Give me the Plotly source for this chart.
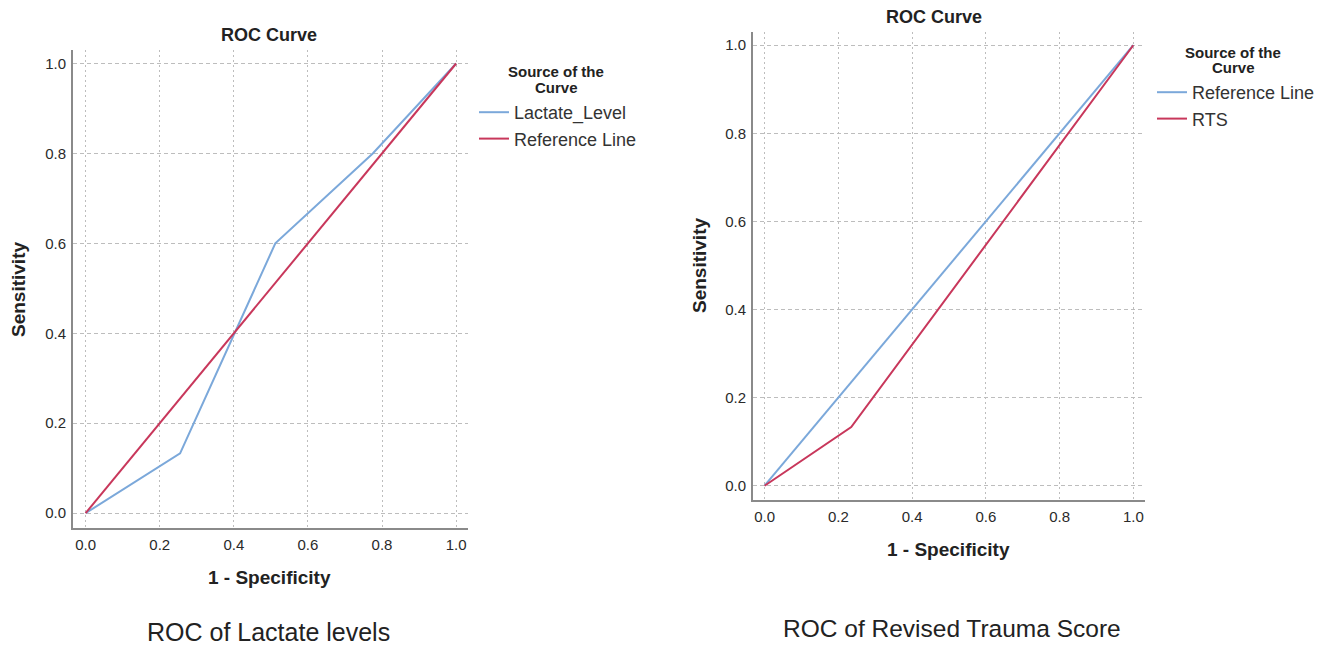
import plotly.graph_objects as go

# ---------------- data ----------------
lactate_fpr = [0.0, 0.255, 0.512, 0.775, 1.0]
lactate_tpr = [0.0, 0.133, 0.600, 0.800, 1.0]

rts_fpr = [0.0, 0.235, 1.0]
rts_tpr = [0.0, 0.133, 1.0]

ref_fpr = [0.0, 1.0]
ref_tpr = [0.0, 1.0]

tick_vals = [0.0, 0.2, 0.4, 0.6, 0.8, 1.0]
tick_text = ["0.0", "0.2", "0.4", "0.6", "0.8", "1.0"]

left_caption = "ROC of Lactate levels"
right_caption = "ROC of Revised Trauma Score"

# ---------------- styling ----------------
# the page body has an 8px margin, so the figure starts at (8, 8) in the window
OFF = 8
W, H = 1324 - OFF, 646 - OFF
BLUE = "#7BA8DA"
RED = "#C8375B"
FONT = "Liberation Sans, Arial, sans-serif"


def px(x):
    return (x - OFF) / W


def py(y):
    return 1 - (y - OFF) / H


fig = go.Figure()

# left chart
fig.add_trace(go.Scatter(x=lactate_fpr, y=lactate_tpr, mode="lines", name="Lactate_Level",
                         line=dict(color=BLUE, width=2), xaxis="x", yaxis="y", legend="legend"))
fig.add_trace(go.Scatter(x=ref_fpr, y=ref_tpr, mode="lines", name="Reference Line",
                         line=dict(color=RED, width=2), xaxis="x", yaxis="y", legend="legend"))
# right chart
fig.add_trace(go.Scatter(x=ref_fpr, y=ref_tpr, mode="lines", name="Reference Line",
                         line=dict(color=BLUE, width=2), xaxis="x2", yaxis="y2", legend="legend2"))
fig.add_trace(go.Scatter(x=rts_fpr, y=rts_tpr, mode="lines", name="RTS",
                         line=dict(color=RED, width=2), xaxis="x2", yaxis="y2", legend="legend2"))

axis_common = dict(
    showline=True, linecolor="#8a8a8a", linewidth=2, mirror=False,
    showgrid=True, gridcolor="#bdbdbd", gridwidth=1,
    zeroline=False, tickvals=tick_vals, ticktext=tick_text,
    ticks="outside", tickcolor="rgba(0,0,0,0)", ticklen=2,
    tickfont=dict(size=15, color="#2a2a2a", family=FONT),
    fixedrange=True,
)

legend_common = dict(
    xanchor="left", yanchor="top", bgcolor="rgba(0,0,0,0)",
    font=dict(size=18, color="#333333", family=FONT), tracegroupgap=0,
)

fig.update_layout(
    width=W, height=H,
    margin=dict(l=0, r=0, t=0, b=0),
    paper_bgcolor="white", plot_bgcolor="white",
    font=dict(family=FONT, color="#222222"),
    xaxis=dict(domain=[px(73), px(468)], range=[-0.034, 1.032], anchor="y",
               griddash="2px,3px", **axis_common),
    yaxis=dict(domain=[py(528), py(50)], range=[-0.033, 1.030], anchor="x",
               griddash="4px,3px", **axis_common),
    xaxis2=dict(domain=[px(753), px(1145)], range=[-0.0314, 1.0317], anchor="y2",
                griddash="2px,3px", **axis_common),
    yaxis2=dict(domain=[py(500), py(32)], range=[-0.0324, 1.030], anchor="x2",
                griddash="4px,3px", **axis_common),
    legend=dict(x=px(474), y=py(94), **legend_common),
    legend2=dict(x=px(1152), y=py(74), **legend_common),
    showlegend=True,
)

annotations = []


def ann(text, x, y, size, bold=False, angle=0, color="#222222"):
    annotations.append(dict(
        text=f"<b>{text}</b>" if bold else text,
        x=px(x), y=py(y), xref="paper", yref="paper",
        xanchor="center", yanchor="middle", showarrow=False, textangle=angle,
        font=dict(size=size, color=color, family=FONT),
    ))


# chart titles
ann("ROC Curve", 269, 35, 18, bold=True)
ann("ROC Curve", 934, 17, 18, bold=True)
# axis titles
ann("1 - Specificity", 269, 577, 19, bold=True)
ann("Sensitivity", 18, 290, 19, bold=True, angle=-90)
ann("1 - Specificity", 948, 549, 19, bold=True)
ann("Sensitivity", 699, 266, 19, bold=True, angle=-90)
# legend titles
ann("Source of the", 556, 72, 15, bold=True)
ann("Curve", 556, 87, 15, bold=True)
ann("Source of the", 1233, 52, 15, bold=True)
ann("Curve", 1233, 67.5, 15, bold=True)
# captions
ann(left_caption, 268, 632, 25)
ann(right_caption, 952, 628, 24.5)

fig.update_layout(annotations=annotations)

fig.write_html("out.html")
